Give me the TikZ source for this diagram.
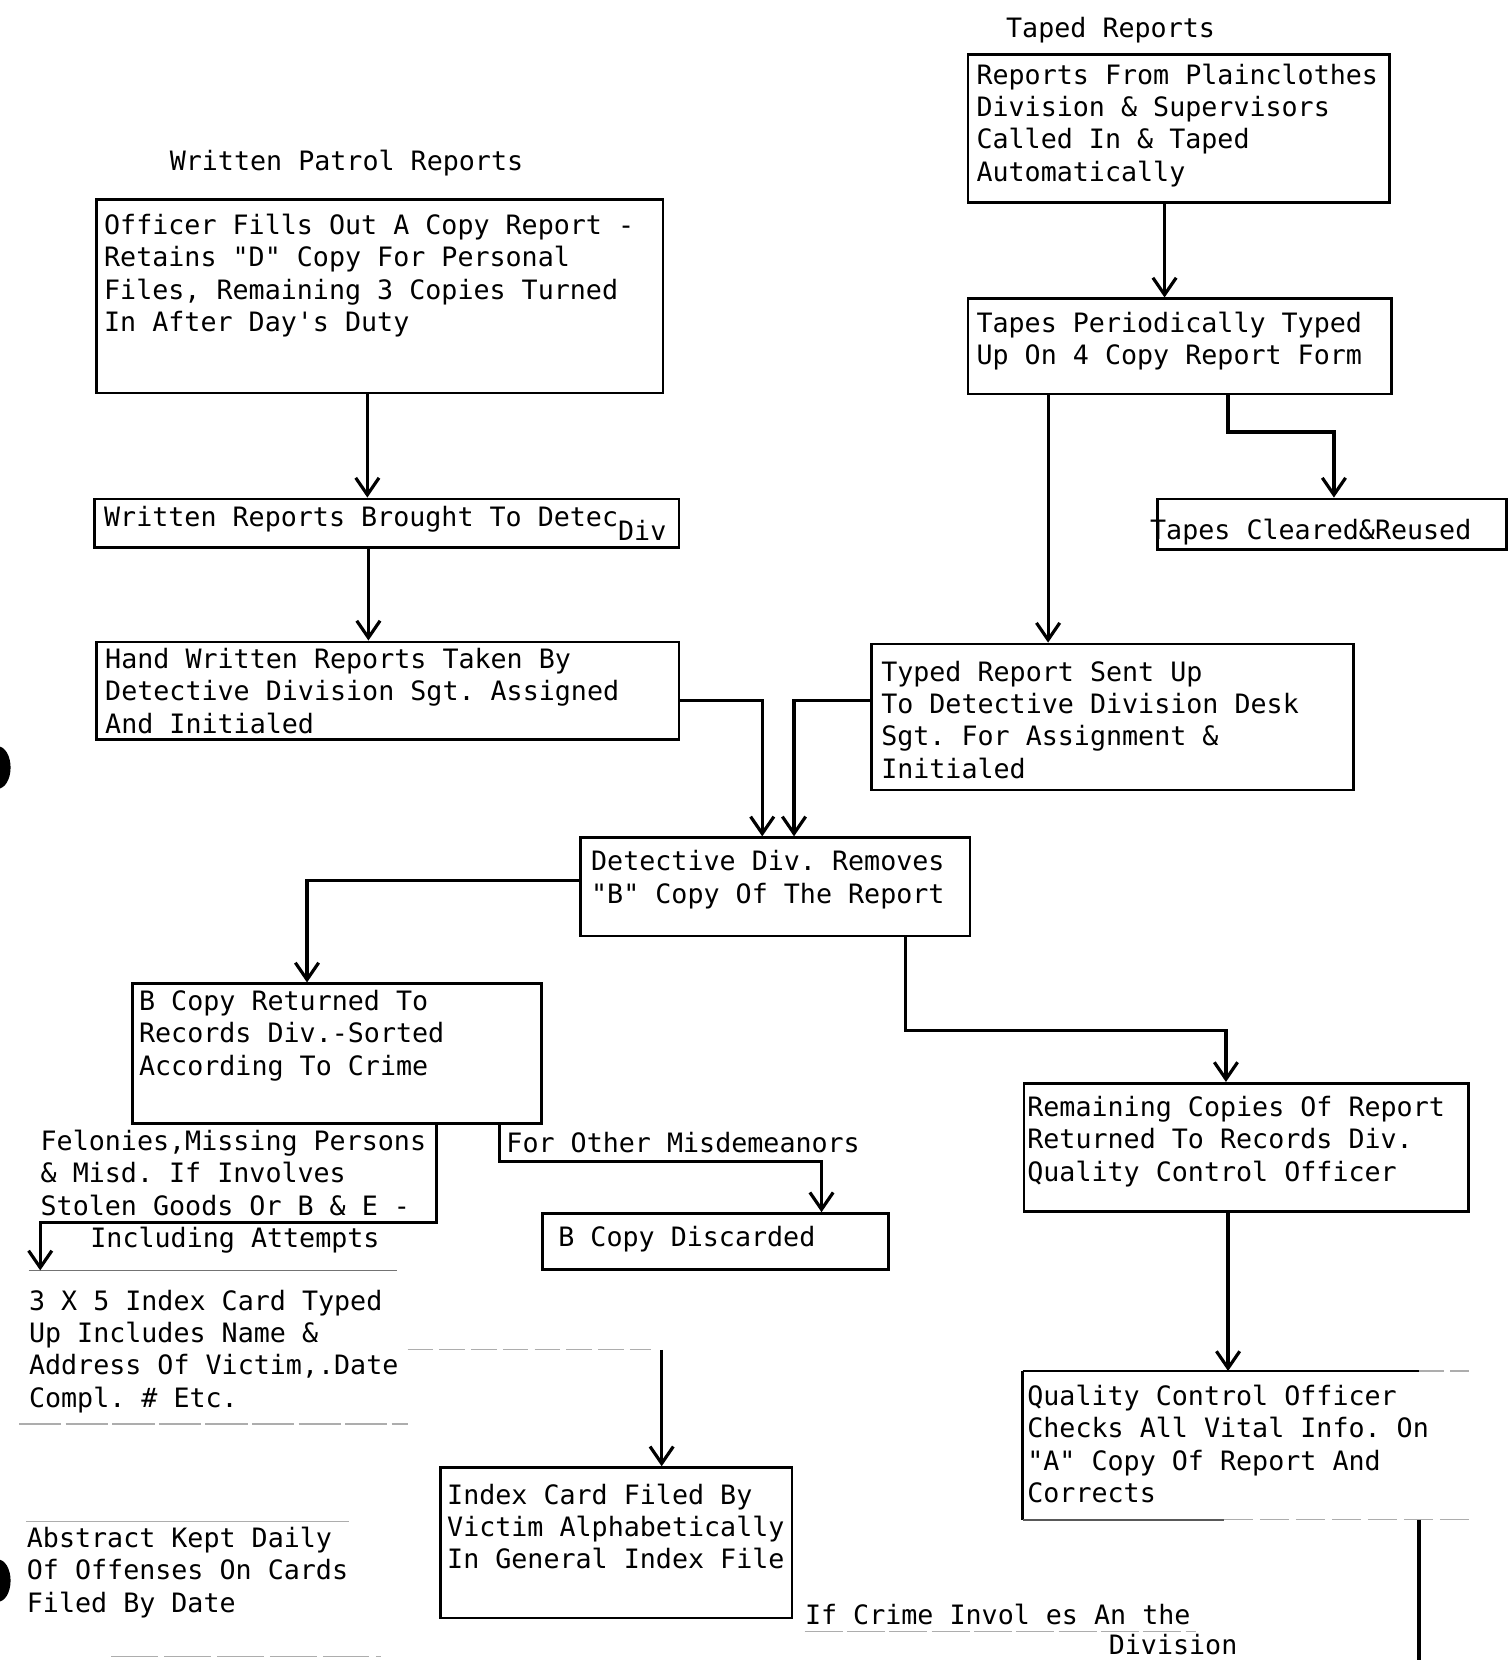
\documentclass[tikz,border=0pt]{standalone}
\usepackage{fontspec}
\newfontfamily\tw{DejaVu Sans Mono}
\usetikzlibrary{arrows.meta,calc}
\frenchspacing
\begin{document}
\begin{tikzpicture}[x=0.5pt,y=-0.5pt,
  box/.style={draw, line width=1.25pt, inner sep=0pt, anchor=north west},
  txt/.style={anchor=north west, inner sep=0pt, align=left,
     font=\tw\fontsize{12.6pt}{15.25pt}\selectfont\frenchspacing,
     execute at begin node={\rule{0pt}{10pt}}},
  link/.style={line width=1.5pt},
  arr/.style={link, -{Straight Barb[length=8pt,width=11pt,line width=1.5pt]}},
  faint/.style={line width=0.6pt, black!32},
]
\useasboundingbox (0,0) rectangle (1424,1568);

% punch holes at the left edge
\begin{scope}
  \clip (0,0) rectangle (1424,1568);
  \fill (-2,725) ellipse [x radius=6pt, y radius=10pt];
  \fill (-2,1493) ellipse [x radius=6pt, y radius=10pt];
\end{scope}

% column titles
\node[txt] (wtitle) at (160,141) {Written Patrol Reports};
\node[txt] (ttitle) at (950,15) {Taped Reports};

% boxes
\node[box, minimum width=267.5pt, minimum height=91.5pt] (A) at (90,187) {};
\node[box, minimum width=276pt, minimum height=23pt] (B) at (88,470) {};
\node[box, minimum width=275pt, minimum height=46pt] (C) at (90,605) {};
\node[box, minimum width=199pt, minimum height=70pt] (T1) at (913,50) {};
\node[box, minimum width=200pt, minimum height=45pt] (T2) at (913,281) {};
\node[box, minimum width=165pt, minimum height=24pt] (TC) at (1092,470) {};
\node[box, minimum width=227.5pt, minimum height=69pt] (D) at (822,607) {};
\node[box, minimum width=184pt, minimum height=46.5pt] (E) at (547,790) {};
\node[box, minimum width=193pt, minimum height=66pt] (F) at (124,928) {};
\node[box, minimum width=163.5pt, minimum height=26.5pt] (G) at (511,1145) {};
\node[box, minimum width=210pt, minimum height=60.5pt] (H) at (966,1022) {};
\node[box, draw=none, minimum width=209.5pt, minimum height=69pt] (I) at (966,1295) {};
\node[box, minimum width=166pt, minimum height=71pt] (J) at (415,1385) {};

% open-sided box for the quality check
\draw[line width=1.25pt] (I.north west) -- (I.south west);
\draw[line width=1.25pt] (I.north west) -- ($(I.north west)+(374,0)$);
\draw[faint, dash pattern=on 12pt off 3pt] ($(I.north west)+(374,0)$) -- (I.north east);
\draw[line width=0.9pt, black!65] (I.south west) -- ($(I.south west)+(190,0)$);
\draw[faint, dash pattern=on 14pt off 3pt] ($(I.south west)+(190,0)$) -- (I.south east);

% box texts
\node[txt] (At) at (98,202) {Officer Fills Out A Copy Report -\\Retains "D" Copy For Personal\\Files, Remaining 3 Copies Turned\\In After Day's Duty};
\node[txt] (Bt) at (98,477) {Written Reports Brought To Detec\raisebox{-6.5pt}{Div}};
\node[txt] (Ct) at (99,612) {Hand Written Reports Taken By\\Detective Division Sgt. Assigned\\And Initialed};
\node[txt] (T1t) at (922,60) {Reports From Plainclothes\\Division \& Supervisors\\Called In \& Taped\\Automatically};
\node[txt] (T2t) at (922,294) {Tapes Periodically Typed\\Up On 4 Copy Report Form};
\node[txt] (TCt) at (1086,489) {Tapes Cleared\&Reused};
\node[txt] (Dt) at (832,624) {Typed Report Sent Up\\To Detective Division Desk\\Sgt. For Assignment \&\\Initialed};
\node[txt] (Et) at (558,803) {Detective Div. Removes\\"B" Copy Of The Report};
\node[txt] (Ft) at (131,935) {B Copy Returned To\\Records Div.-Sorted\\According To Crime};
\node[txt] (Felt) at (38,1067) {Felonies,Missing Persons\\\& Misd. If Involves\\Stolen Goods Or B \& E -\\\hspace*{23.5pt}Including Attempts};
\node[txt] (Fort) at (478,1068) {For Other Misdemeanors};
\node[txt] (Gt) at (527,1157) {B Copy Discarded};
\coordinate (Ktop) at (27,1200);
\node[txt] (Kt) at (27,1218) {3 X 5 Index Card Typed\\Up Includes Name \&\\Address Of Victim,.Date\\Compl. \# Etc.};
\node[txt] (Ht) at (970,1035) {Remaining Copies Of Report\\Returned To Records Div.\\Quality Control Officer};
\node[txt] (It) at (970,1308) {Quality Control Officer\\Checks All Vital Info. On\\"A" Copy Of Report And\\Corrects};
\node[txt] (Jt) at (422,1401) {Index Card Filed By\\Victim Alphabetically\\In General Index File};
\node[txt] (Abt) at (25,1442) {Abstract Kept Daily\\Of Offenses On Cards\\Filed By Date};
\node[txt] (IfCt) at (760,1514) {If Crime Invol es An the};
\node[txt] (Divt) at (1047,1542) {Division};

% faint ruling left on the sheet
\draw[line width=0.8pt, black!55] (Ktop) -- ++(348,0);
\draw[faint, dash pattern=on 20pt off 2pt] (18,1345) -- (385,1345);
\draw[faint, dash pattern=on 12pt off 3pt] (385,1275) -- (615,1275);
\draw[faint] (25,1437) -- (330,1437);
\draw[faint, dash pattern=on 22pt off 3pt] (105,1565) -- (360,1565);
\draw[faint, dash pattern=on 18pt off 2pt] (760,1541) -- (1130,1541);

% connectors
\draw[arr] ($(A.south west)+(257,0)$) -- ($(B.north west)+(259,0)$);
\draw[arr] ($(B.south west)+(260,0)$) -- ($(C.north west)+(258,0)$);
\draw[arr] ($(T1.south west)+(187,0)$) -- ($(T2.north west)+(187,0)$);
\draw[arr] ($(T2.south west)+(247,0)$) |- ($(TC.north west)+(168,-62)$) -- ($(TC.north west)+(168,0)$);
\draw[arr] ($(T2.south west)+(77,0)$) -- ($(D.north west)+(168,0)$);
\draw[arr] ($(C.north east)+(0,57)$) -| ($(E.north west)+(173,0)$);
\draw[arr] ($(D.north west)+(0,55)$) -| ($(E.north west)+(203,0)$);
\draw[arr] ($(E.north west)+(0,42)$) -| ($(F.north west)+(166,0)$);
\draw[arr] ($(F.south west)+(288,0)$) |- ($(Ktop)+(11,-45)$) -- ($(Ktop)+(11,0)$);
\draw[arr] ($(F.south west)+(348,0)$) |- ($(G.north west)+(265,-48)$) -- ($(G.north west)+(265,0)$);
\draw[arr] ($(E.south west)+(308,0)$) |- ($(H.north west)+(192,-49)$) -- ($(H.north west)+(192,0)$);
\draw[arr] ($(H.south west)+(194,0)$) -- ($(I.north west)+(194,0)$);
\coordinate (Jsrc) at (625,1275);
\draw[arr] (Jsrc) -- ($(J.north west)+(210,0)$);
\coordinate (Iout) at (1340,1568);
\draw[line width=2pt] ($(I.south west)+(374,0)$) -- (Iout);
\end{tikzpicture}
\end{document}
